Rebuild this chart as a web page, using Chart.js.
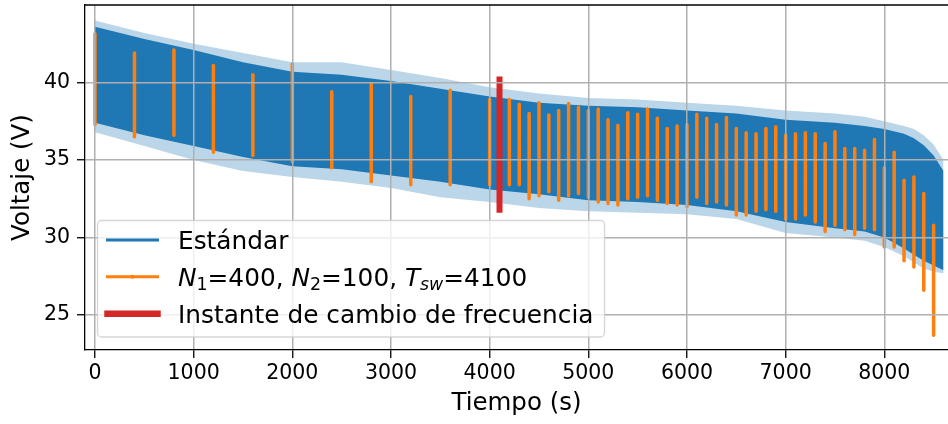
<!DOCTYPE html>
<html><head><meta charset="utf-8">
<script src="https://cdn.jsdelivr.net/npm/chart.js@4/dist/chart.umd.min.js"></script>
<style>html,body{margin:0;padding:0;background:#fff}#wrap{width:948px;height:424px}</style>
</head><body><div id="wrap"><canvas id="c" width="948" height="424"></canvas></div>
<script>
// ---- data ----
const envX       = [0,500,1000,1500,2000,2500,3000,3500,4000,4500,5000,5500,6000,6500,7000,7500,7800,8000,8200,8300,8400,8500,8600];
const coreHigh   = [43.6,42.8,42.1,41.3,40.7,40.5,40.1,39.6,39.1,38.7,38.5,38.4,38.2,38.0,37.6,37.4,37.2,37.0,36.7,36.4,35.95,35.3,34.3];
const coreLow    = [37.4,36.6,35.9,35.2,34.6,34.4,34.0,33.6,33.1,32.8,32.4,32.3,32.1,31.7,31.0,30.6,30.4,30.0,29.3,28.9,28.5,28.2,27.9];
const fringeHigh = [44.0,43.2,42.5,41.9,41.3,41.3,40.8,40.3,39.7,39.3,39.0,38.9,38.7,38.5,38.2,38.0,37.8,37.5,37.2,37.0,36.6,36.0,35.0];
const fringeLow  = [36.8,35.9,35.0,34.3,33.9,33.6,33.2,32.6,32.3,31.9,31.7,31.6,31.5,31.2,30.3,30.0,29.8,29.4,28.8,28.4,28.0,27.8,27.7];

const orangeX = [0,400,800,1200,1600,2000,2400,2800,3200,3600,4000,
  4200,4300,4400,4500,4600,4700,4800,4900,5000,5100,5200,5300,5400,5500,5600,5700,5800,5900,
  6000,6100,6200,6300,6400,6500,6600,6700,6800,6900,7000,7100,7200,7300,7400,7500,7600,7700,7800,7900,
  8000,8100,8200,8300,8400,8500];
const orangeHigh = [43.15,41.9,42.1,41.1,40.5,41.2,39.4,39.9,39.1,39.5,38.9,
  38.9,38.6,38.0,38.7,37.9,38.2,38.65,38.4,38.2,38.3,37.6,37.25,38.05,37.96,38.3,37.7,37.04,37.2,
  37.3,37.96,37.7,37.3,37.75,37.04,36.76,36.7,37.04,37.15,36.6,36.7,36.76,36.7,36.07,36.82,35.75,35.75,35.64,36.33,
  34.5,35.5,33.7,33.9,32.85,30.8];
const orangeLow = [37.3,36.5,36.6,35.5,35.3,34.9,34.5,33.6,33.4,33.4,33.4,
  33.4,33.4,32.5,32.7,32.95,32.4,32.7,32.85,32.6,32.3,32.2,32.1,32.5,32.6,32.7,32.4,32.2,32.1,
  32.0,32.6,32.2,32.3,32.1,31.45,31.45,31.7,31.8,31.7,31.2,31.2,31.45,31.0,30.4,30.8,30.5,30.2,30.6,30.5,
  29.4,29.4,28.5,28.1,26.6,23.7];

const switchX = 4100;
const switchY = [31.8, 40.2];

const xTicks = [0,1000,2000,3000,4000,5000,6000,7000,8000];
const yTicks = [25,30,35,40];
const xRange = [-101.4, 8645.6];
const yRange = [22.75, 45];

const xTitle = 'Tiempo (s)';
const yTitle = 'Voltaje (V)';
const legendStd = 'Estándar';
const legendN = [['N','i'],['1','s'],['=400, ',''],['N','i'],['2','s'],['=100, ',''],['T','i'],['sw','si'],['=4100','']];
const legendSwitch = 'Instante de cambio de frecuencia';

// ---- build datasets ----
const BLUE = '#1f77b4', ORANGE = '#ff7f0e', RED = '#d62728';
const FONT = '"DejaVu Sans", sans-serif';
const pts = (xs, ys) => xs.map((x, i) => ({x, y: ys[i]}));
const orangeData = [];
orangeX.forEach((x, i) => {
  orangeData.push({x, y: orangeLow[i]}, {x, y: orangeHigh[i]}, {x, y: null});
});

const datasets = [
  {data: pts(envX, fringeHigh), fill: '+1', backgroundColor: 'rgba(31,119,180,0.3)', borderWidth: 0, pointRadius: 0, order: 4},
  {data: pts(envX, fringeLow), fill: false, borderWidth: 0, pointRadius: 0, order: 4},
  {data: pts(envX, coreHigh), fill: '+1', backgroundColor: BLUE, borderWidth: 0, pointRadius: 0, order: 3},
  {data: pts(envX, coreLow), fill: false, borderWidth: 0, pointRadius: 0, order: 3},
  {data: orangeData, borderColor: ORANGE, borderWidth: 3.5, pointRadius: 0, spanGaps: false, fill: false, borderCapStyle: 'round', order: 2},
  {data: [{x: switchX, y: switchY[0]}, {x: switchX, y: switchY[1]}], borderColor: RED, borderWidth: 6, pointRadius: 0, fill: false, borderCapStyle: 'square', order: 1}
];

const frame = {
  id: 'frame',
  afterDraw(chart) {
    const {ctx, chartArea: a} = chart;
    ctx.save();
    ctx.strokeStyle = '#000'; ctx.lineWidth = 1.3;
    ctx.beginPath(); ctx.moveTo(a.left, a.top); ctx.lineTo(a.right, a.top); ctx.stroke();
    // legend box
    ctx.beginPath();
    ctx.roundRect(97.5, 220.5, 507, 116.5, 4);
    ctx.fillStyle = 'rgba(255,255,255,0.8)'; ctx.fill();
    ctx.strokeStyle = 'rgba(204,204,204,0.8)'; ctx.lineWidth = 1.3; ctx.stroke();
    const rows = [240, 276.8, 313.7];
    const handle = (y, c, w) => {
      ctx.beginPath(); ctx.strokeStyle = c; ctx.lineWidth = w; ctx.lineCap = 'square';
      ctx.moveTo(107.5, y); ctx.lineTo(157.5, y); ctx.stroke();
    };
    handle(rows[0], BLUE, 3);
    handle(rows[1], ORANGE, 3);
    ctx.beginPath(); ctx.fillStyle = ORANGE; ctx.arc(132.5, rows[1], 2, 0, 2*Math.PI); ctx.fill();
    handle(rows[2], RED, 6.5);
    const size = 24.8;
    ctx.fillStyle = '#000'; ctx.textBaseline = 'alphabetic'; ctx.textAlign = 'left';
    ctx.font = `${size}px ${FONT}`;
    ctx.fillText(legendStd, 178, rows[0] + 9.2);
    ctx.fillText(legendSwitch, 178, rows[2] + 9.2);
    let x = 178; const yb = rows[1] + 9.2;
    for (const [t, st] of legendN) {
      const sub = st.includes('s'), it = st.includes('i');
      const fs = sub ? size * 0.7 : size;
      ctx.font = `${it ? 'italic ' : ''}${fs}px ${FONT}`;
      ctx.fillText(t, x, yb + (sub ? size * 0.18 : 0));
      x += ctx.measureText(t).width;
    }
    ctx.restore();
  }
};

new Chart(document.getElementById('c'), {
  type: 'line',
  data: {datasets},
  plugins: [frame],
  options: {
    responsive: false, animation: false, devicePixelRatio: 1,
    layout: {padding: {top: 5, left: 0, right: 0, bottom: 0}},
    plugins: {legend: {display: false}, tooltip: {enabled: false}},
    scales: {
      x: {
        type: 'linear', min: xRange[0], max: xRange[1],
        afterFit(s) { s.height = 74; s.paddingLeft = 0; s.paddingRight = 0; },
        afterBuildTicks(s) { s.ticks = xTicks.map(v => ({value: v})); },
        ticks: {font: {family: FONT, size: 20.5}, color: '#000', padding: 3, maxRotation: 0, autoSkip: false, callback: v => String(v)},
        grid: {color: '#b0b0b0', lineWidth: 1.5, z: 1, tickColor: '#000', tickLength: 8, tickWidth: 1.3},
        border: {display: true, color: '#000', width: 1.3, z: 1},
        title: {display: true, text: xTitle, font: {family: FONT, size: 24.5}, color: '#000', padding: {top: 0, bottom: 6}}
      },
      y: {
        type: 'linear', min: yRange[0], max: yRange[1],
        afterFit(s) { s.width = 85; s.paddingTop = 0; s.paddingBottom = 0; },
        afterBuildTicks(s) { s.ticks = yTicks.map(v => ({value: v})); },
        ticks: {font: {family: FONT, size: 20.5}, color: '#000', padding: 7, autoSkip: false, callback: v => String(v)},
        grid: {color: '#b0b0b0', lineWidth: 1.5, z: 1, tickColor: '#000', tickLength: 8, tickWidth: 1.3},
        border: {display: true, color: '#000', width: 1.3, z: 1},
        title: {display: true, text: yTitle, font: {family: FONT, size: 24.5}, color: '#000', padding: {top: 8, bottom: 0}}
      }
    }
  }
});
</script></body></html>
